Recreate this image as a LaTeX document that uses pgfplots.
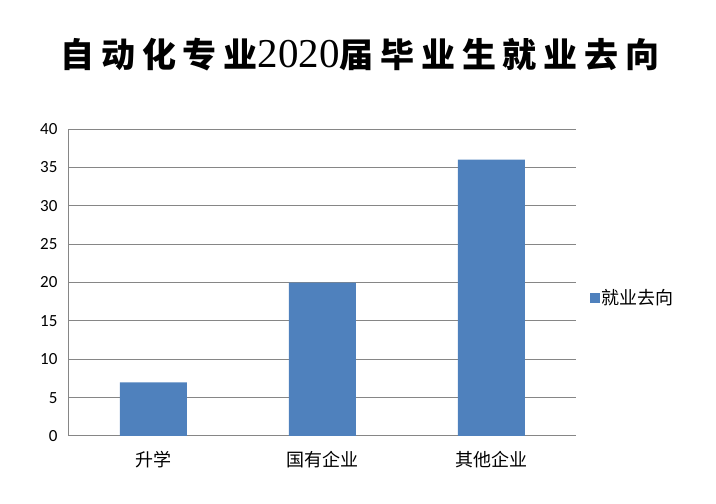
\documentclass[border=0pt]{standalone}
\usepackage{fontspec}
\setmainfont{Carlito}
\newfontfamily\cjk{Noto Sans CJK SC}
\newfontfamily\cjkt[LetterSpace=20]{Noto Sans CJK SC}
\newfontfamily\serifd{Liberation Serif}
\usepackage{pgfplots}
\pgfplotsset{compat=1.18}
\definecolor{barblue}{HTML}{4F81BD}
\definecolor{gridgray}{HTML}{868686}
\begin{document}
\begin{tikzpicture}
\useasboundingbox (0,0) rectangle (716pt,504pt);
\begin{axis}[
  at={(69pt,68pt)}, anchor=south west,
  scale only axis, width=507pt, height=307pt,
  xmin=-0.5, xmax=2.5, ymin=0, ymax=40,
  ytick={0,5,...,40}, xtick={0,1,2},
  xticklabels={升学,国有企业,其他企业},
  x tick label style={font=\cjk\fontsize{18}{18}\selectfont, yshift=-12pt},
  y tick label style={font=\fontsize{17}{17}\selectfont, xshift=-8pt},
  /pgf/number format/assume math mode=true,
  ymajorgrids, grid style={draw=gridgray, line width=1pt},
  axis x line*=bottom, axis y line*=left,
  axis line style={draw=gridgray, line width=1pt},
  major tick length=0pt,
  legend style={at={(1.027,0.45)}, anchor=west, draw=none, fill=none,
    font=\cjk\fontsize{18}{18}\selectfont, inner sep=0pt},
  legend image code/.code={\fill[barblue] (0pt,-5pt) rectangle (10pt,5pt);},
]
\addplot[ybar, bar width=67pt, fill=barblue, draw=none] coordinates {(0,7) (1,20) (2,36)};
\addlegendentry{就业去向}
\end{axis}
\node[font=\cjkt\bfseries\fontsize{34}{34}\selectfont] at (360pt,449pt) {自动化专业{\serifd\mdseries\fontsize{41}{41}\selectfont 2020}届毕业生就业去向};
\end{tikzpicture}
\end{document}
